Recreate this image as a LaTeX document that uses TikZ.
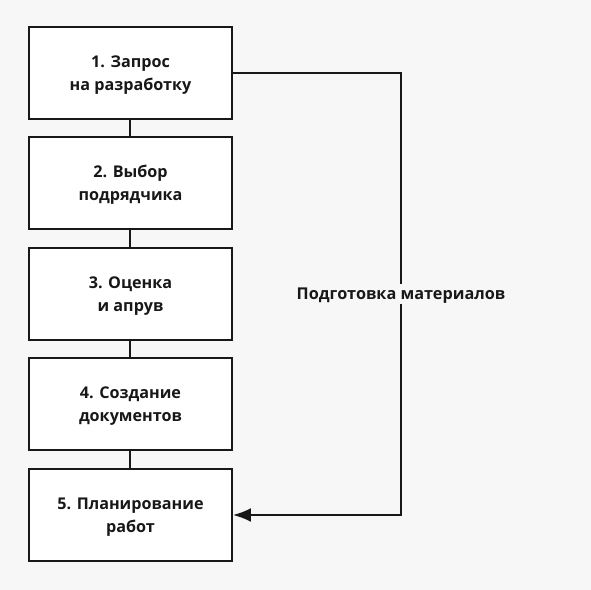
\documentclass[tikz,border=0pt]{standalone}
\usepackage{fontspec}
\setmainfont{Open Sans}
\usetikzlibrary{arrows.meta}
\definecolor{planBack}{RGB}{247,247,247}
\definecolor{planInk}{RGB}{24,24,24}

\begin{document}
\begin{tikzpicture}[
  stage/.style={
    draw=planInk, line width=0.04cm, fill=white,
    minimum width=4.06cm, minimum height=1.84cm, text depth=-1pt,
    align=center, text=planInk, font=\fontsize{9.2pt}{13.1pt}\selectfont\bfseries
  },
  lbl/.style={
    fill=planBack, inner xsep=0pt, inner ysep=2pt, text depth=-1pt, text=planInk,
    font=\fontsize{9.25pt}{13pt}\selectfont\bfseries
  },
  link/.style={line width=0.04cm, color=planInk},
  arr/.style={-{Latex[length=3.6mm,width=2.8mm]}, line width=0.04cm, color=planInk, shorten >=0cm},
]

%% Background
\fill[planBack] (0, 0) rectangle (11.82, 11.80);

%% Stages
\node[stage] (zapros)  at (2.61, 10.34) {1. Запрос\\на разработку};
\node[stage] (vybor)   at (2.61, 8.14)  {2. Выбор\\подрядчика};
\node[stage] (ocenka)  at (2.61, 5.92)  {3. Оценка\\и апрув};
\node[stage] (docs)    at (2.61, 3.72)  {4. Создание\\документов};
\node[stage] (plan)    at (2.61, 1.50)  {5. Планирование\\работ};

%% Side label
\node[lbl] (materials) at (8.02, 5.92) {Подготовка материалов};

%% Arrows
\draw[link] (zapros) -- (vybor);
\draw[link] (vybor)  -- (ocenka);
\draw[link] (ocenka) -- (docs);
\draw[link] (docs)   -- (plan);

% Bypass on the right
\draw[link] (zapros.east) -| (materials.north);
\draw[arr] (materials.south) |- (plan.east);

\end{tikzpicture}
\end{document}
